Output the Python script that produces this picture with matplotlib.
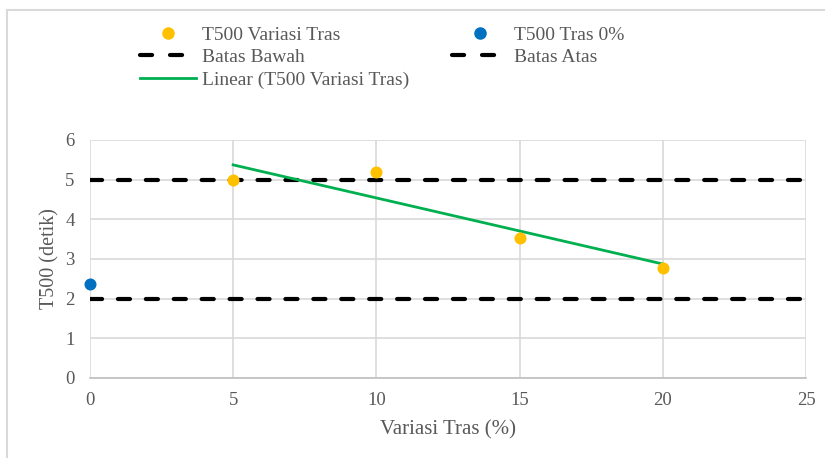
import numpy as np
import matplotlib.pyplot as plt
from matplotlib.lines import Line2D

plt.rcParams['font.family'] = ['Liberation Serif', 'DejaVu Serif']

# data
tras_x = [5, 10, 15, 20]
t500_y = [5.0, 5.19, 3.52, 2.78]
tras0_x = [0]
tras0_y = [2.36]
batas_x = [0, 25]
batas_bawah = [2, 2]
batas_atas = [5, 5]

TXT = "#595959"
GRID = "#d9d9d9"
DASH = (2.9, 3.8)

fig = plt.figure(figsize=(8.25, 4.58), dpi=100)
ax = fig.add_axes([0.109, 0.1747, 0.868, 0.5197])

for yy in (batas_bawah, batas_atas):
    ax.plot(batas_x, yy, color="black", lw=3, dashes=DASH,
            dash_capstyle="round", zorder=3)

# linear trend of the Variasi Tras series
k, b = np.polyfit(tras_x, t500_y, 1)
xt = np.array([min(tras_x), max(tras_x)])
ax.plot(xt, k * xt + b, color="#00b050", lw=2, zorder=4)

ax.scatter(tras_x, t500_y, s=75, color="#ffc000", zorder=5, linewidths=0)
ax.scatter(tras0_x, tras0_y, s=75, color="#0070c0", zorder=5, linewidths=0, clip_on=False)

ax.set_xlim(0, 25)
ax.set_ylim(0, 6)
ax.set_xticks(range(0, 26, 5))
ax.set_yticks(range(0, 7))
ax.grid(True, color=GRID, lw=1.2, zorder=0)
ax.set_axisbelow(True)
for s in ["top", "right", "left"]:
    ax.spines[s].set_visible(False)
ax.spines["bottom"].set_color("#bfbfbf")
ax.spines["bottom"].set_linewidth(1.2)
ax.tick_params(length=0, labelsize=13.5, labelcolor=TXT)
ax.tick_params(axis="x", pad=10)
ax.tick_params(axis="y", pad=11)
ax.set_xlabel("Variasi Tras (%)", fontsize=15, color=TXT, labelpad=8)
ax.set_ylabel("T500 (detik)", fontsize=14.5, color=TXT, labelpad=4)

# legend: two columns, each its own legend so the columns sit like Excel's
yel = Line2D([], [], ls="none", marker="o", ms=8, color="#ffc000")
blu = Line2D([], [], ls="none", marker="o", ms=8, color="#0070c0")
dsh = Line2D([], [], color="black", lw=3, dashes=(2.9, 4.3), dash_capstyle="round")
grn = Line2D([], [], color="#00b050", lw=2)
opts = dict(loc="upper left", frameon=False, fontsize=14, labelcolor=TXT,
            handlelength=2.9, handletextpad=0.3, labelspacing=0.25,
            borderpad=0, borderaxespad=0)
fig.legend([yel, dsh, grn], ["T500 Variasi Tras", "Batas Bawah", "Linear (T500 Variasi Tras)"],
           bbox_to_anchor=(140 / 825, 1 - 26 / 458), **opts)
fig.legend([blu, dsh], ["T500 Tras 0%", "Batas Atas"],
           bbox_to_anchor=(452 / 825, 1 - 26 / 458), **opts)

# outer chart border (top and left visible)
fig.add_artist(Line2D([7 / 825, 1], [1 - 9.5 / 458] * 2, color=GRID, lw=1.5))
fig.add_artist(Line2D([7 / 825] * 2, [0, 1 - 9.5 / 458], color=GRID, lw=1.5))

fig.savefig("out.png", dpi=100)
